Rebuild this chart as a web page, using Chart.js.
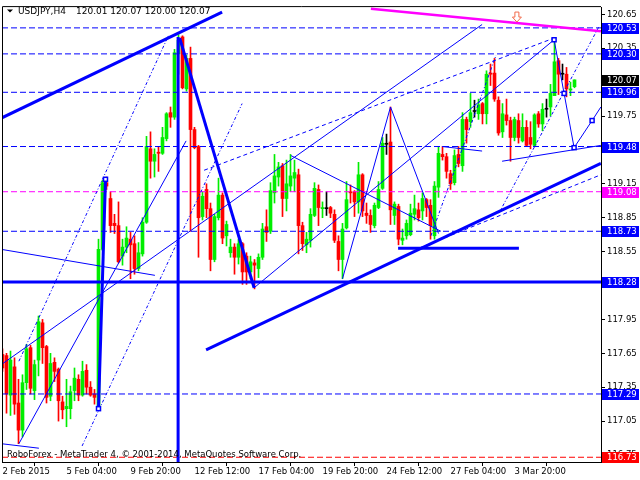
<!DOCTYPE html>
<html><head><meta charset="utf-8">
<script src="https://cdn.jsdelivr.net/npm/chart.js@4.4.1/dist/chart.umd.min.js"></script>
<style>html,body{margin:0;padding:0;background:#fff;}#wrap{width:640px;height:480px;position:relative;}</style>
</head><body><div id="wrap"><canvas id="c" width="640" height="480"></canvas></div>
<script>
// ---------- DATA (USDJPY H4, bar index 0 = 2 Feb 2015 12:00) ----------
const openP = [117.64,117.63,117.28,117.53,117.21,116.97,117.39,117.70,117.32,117.59,117.92,117.71,117.27,117.57,117.51,117.22,117.16,117.16,117.32,117.42,117.28,117.50,117.35,117.29,117.17,118.57,119.16,119.02,118.80,118.78,118.51,118.59,118.66,118.62,118.40,118.53,118.81,119.46,119.35,119.43,119.42,119.55,119.78,119.74,120.30,120.45,119.99,120.26,119.63,119.48,118.86,119.10,118.93,118.48,118.85,119.05,118.69,118.54,118.59,118.50,118.62,118.51,118.37,118.45,118.40,118.50,118.77,118.73,119.07,119.21,119.31,119.02,119.13,119.20,119.23,118.78,118.61,118.65,118.87,119.10,118.93,118.93,118.94,118.88,118.64,118.48,118.76,119.08,119.08,118.99,119.23,118.89,118.87,118.78,118.94,119.11,119.50,119.52,118.87,118.95,118.65,118.69,118.70,118.88,118.92,118.91,119.01,118.96,118.69,119.12,119.41,119.39,119.24,119.16,119.41,119.31,119.72,119.70,119.79,119.77,119.86,119.77,120.13,120.13,119.89,119.61,119.76,119.71,119.56,119.71,119.53,119.65,119.56,119.49,119.77,119.68,119.81,119.83,119.93,120.24,120.12,120.12,119.98,120.01];
const highP = [117.69,117.65,117.67,117.61,117.42,117.46,117.73,117.72,117.59,117.98,117.95,117.72,117.65,117.61,117.52,117.27,117.42,117.36,117.52,117.46,117.58,117.55,117.40,117.33,118.66,119.18,119.21,119.08,118.88,118.99,118.66,118.77,118.72,118.69,118.63,118.85,119.57,119.61,119.46,119.48,119.65,119.78,119.83,120.34,120.47,120.46,120.29,120.36,119.65,119.49,119.08,119.15,118.98,118.88,119.20,119.07,118.82,118.66,118.62,118.66,118.63,118.54,118.51,118.48,118.53,118.80,118.92,119.16,119.41,119.34,119.33,119.36,119.41,119.36,119.28,118.81,118.72,118.93,119.16,119.14,118.99,119.08,118.95,118.92,118.69,118.80,119.17,119.14,119.09,119.34,119.24,118.98,118.92,118.98,119.17,119.56,119.59,119.83,118.99,118.97,118.75,118.83,118.97,119.05,118.98,119.07,119.02,119.01,119.17,119.48,119.48,119.42,119.27,119.45,119.48,119.78,119.74,119.95,119.89,119.90,119.87,120.15,120.21,120.26,119.92,119.86,119.90,119.74,119.74,119.77,119.77,119.71,119.70,119.77,119.79,119.86,119.90,120.03,120.44,120.26,120.21,120.18,120.05,120.07];
const lowP = [117.49,117.12,117.10,117.11,116.85,116.91,117.33,117.29,117.24,117.45,117.56,117.21,117.23,117.40,117.05,117.07,117.00,117.07,117.23,117.23,117.27,117.29,117.27,117.20,117.16,118.56,119.10,118.72,118.71,118.45,118.43,118.54,118.31,118.35,118.38,118.51,118.80,119.20,119.21,119.26,119.41,119.53,119.65,119.72,120.12,119.99,119.97,118.73,119.46,118.50,118.83,118.85,118.38,118.46,118.83,118.62,118.60,118.50,118.35,118.44,118.26,118.26,118.31,118.22,118.32,118.48,118.64,118.71,118.98,119.13,118.86,118.91,119.08,119.08,118.53,118.56,118.54,118.59,118.86,118.78,118.85,118.87,118.85,118.63,118.38,118.31,118.75,118.98,118.86,118.89,118.86,118.80,118.72,118.76,118.93,119.10,119.41,118.79,118.79,118.61,118.61,118.66,118.69,118.83,118.82,118.83,118.86,118.66,118.66,119.03,119.36,119.20,119.10,119.14,119.30,119.26,119.51,119.65,119.74,119.72,119.68,119.68,120.02,119.88,119.58,119.56,119.67,119.35,119.53,119.51,119.52,119.48,119.46,119.48,119.65,119.62,119.74,119.75,119.93,119.94,120.07,119.92,119.93,120.00];
const closeP = [117.52,117.29,117.59,117.20,116.97,117.39,117.69,117.34,117.55,117.93,117.70,117.26,117.56,117.49,117.23,117.15,117.18,117.31,117.43,117.28,117.49,117.35,117.28,117.26,118.57,119.16,119.13,118.78,118.78,118.46,118.59,118.67,118.61,118.40,118.54,118.81,119.48,119.35,119.41,119.42,119.56,119.77,119.74,120.31,120.42,120.00,120.26,119.63,119.47,118.85,119.04,118.93,118.48,118.86,119.05,118.67,118.79,118.59,118.50,118.62,118.37,118.37,118.46,118.43,118.50,118.75,118.72,119.09,119.22,119.30,119.02,119.15,119.22,119.25,118.78,118.62,118.66,118.88,119.11,118.94,118.94,118.93,118.89,118.65,118.48,118.75,119.01,119.07,118.99,119.23,118.91,118.87,118.79,118.96,119.10,119.51,119.50,118.92,118.97,118.66,118.67,118.80,118.89,118.93,118.85,119.02,118.94,118.78,119.13,119.42,119.39,119.26,119.15,119.40,119.33,119.72,119.63,119.78,119.79,119.85,119.77,120.12,120.12,119.90,119.60,119.77,119.71,119.56,119.72,119.56,119.65,119.49,119.50,119.76,119.68,119.81,119.81,119.95,120.23,120.12,120.12,119.99,119.99,120.07];

const timeLabels = ['2 Feb 2015','5 Feb 04:00','9 Feb 20:00','12 Feb 12:00','17 Feb 04:00','19 Feb 20:00','24 Feb 12:00','27 Feb 04:00','3 Mar 20:00'];
const timeLabelBars = [0,16,32,48,64,80,96,112,128];
const priceTicks = [116.75,117.05,117.35,117.65,117.95,118.25,118.55,118.85,119.15,119.45,119.75,120.05,120.35,120.65];

// horizontal levels
const blueDashedLevels = [120.53,120.30,119.96,119.48,118.73,117.29];
const magentaDashedLevels = [119.08];
const redDashedLevels = [116.73];
const blueSolidLevels = [118.28];

// trend-line drawings, endpoints as [bar, price, bar, price]
const thickLines = [
  [-0.4,119.73,54.9,120.67],
  [43.9,120.45,43.9,116.60],
  [24,117.16,25.75,119.19],
  [44.3,120.44,62.9,118.23],
  [50.9,117.68,149.6,119.33],
  [98.9,118.58,129.1,118.58]
];
const magentaLines = [[92.1,120.70,149.6,120.50]];
const thinLines = [
  [-0.3,118.57,38.1,118.34],
  [-0.3,116.85,9.1,116.81],
  [4.1,116.85,45.9,119.53],
  [-0.3,117.55,119.9,120.56],
  [72.1,119.40,109.6,118.73],
  [62.9,118.23,137.9,120.425],
  [85,118.31,97,119.83],
  [97,119.83,109,118.71],
  [124.9,119.35,149.6,119.49],
  [109.9,119.48,119.9,119.44]
];
const thinPath = [[137.9,120.425],[140.4,119.95],[142.9,119.47],[147.4,119.71],[149.6,119.83]];
const dashedLines = [
  [104.1,118.58,149.6,119.23],
  [50.4,119.27,137.9,120.44]
];
const dottedLines = [
  [19.9,116.83,59.9,119.86],
  [4.1,117.58,41.6,120.47],
  [107.1,118.69,123.4,120.29],
  [124.1,118.89,149.1,120.54]
];
const pivotBoxes = [[24,117.16],[25.75,119.19],[137.9,120.425],[140.4,119.95],[142.9,119.47],[147.4,119.71]];
const arrowMark = [128.6,120.67];

const symbolText = 'USDJPY,H4';
const copyrightText = 'RoboForex - MetaTrader 4, \u00a9 2001-2014, MetaQuotes Software Corp.';

// ---------- STYLE ----------
const FONT = '"DejaVu Sans", "Liberation Sans", sans-serif';
const FS = 8.5;
const UP = '#00ee00', DOWN = '#ff0000', DOJI = '#000000', BLUE = '#0000ff', MAG = '#ff00ff';
const X_MIN = -0.125, X_MAX = 149.625, Y_MIN = 116.688, Y_MAX = 120.714;

const n = openP.length;
const idx = openP.map((_, i) => i);
const barColor = idx.map(i => closeP[i] > openP[i] ? UP : (closeP[i] < openP[i] ? DOWN : DOJI));

function lineDs(pts, color, width, dash) {
  return { type: 'line', data: pts.map(p => ({x: p[0], y: p[1]})), borderColor: color, borderWidth: width,
    borderDash: dash || [], pointRadius: 0, fill: false, tension: 0, clip: 0, order: 0 };
}
const seg = l => [[l[0],l[1]],[l[2],l[3]]];
const datasets = [];
datasets.push(lineDs(thinPath, BLUE, 1));
thickLines.forEach(l => datasets.push(lineDs(seg(l), BLUE, 3)));
magentaLines.forEach(l => datasets.push(lineDs(seg(l), MAG, 2.5)));
thinLines.forEach(l => datasets.push(lineDs(seg(l), BLUE, 1)));
dashedLines.forEach(l => datasets.push(lineDs(seg(l), BLUE, 1, [4,3])));
dottedLines.forEach(l => datasets.push(lineDs(seg(l), BLUE, 1, [3,2,1,2])));
blueSolidLevels.forEach(v => datasets.push(lineDs([[X_MIN,v],[X_MAX,v]], BLUE, 3)));
blueDashedLevels.forEach(v => datasets.push(lineDs([[X_MIN,v],[X_MAX,v]], BLUE, 1, [6,3])));
magentaDashedLevels.forEach(v => datasets.push(lineDs([[X_MIN,v],[X_MAX,v]], MAG, 1, [6,3])));
redDashedLevels.forEach(v => datasets.push(lineDs([[X_MIN,v],[X_MAX,v]], DOWN, 1, [6,3])));

datasets.push({ type: 'bar', data: idx.map(i => ({x: i, y: [openP[i], closeP[i]]})), backgroundColor: barColor,
  barThickness: 3, minBarLength: 1, grouped: false, borderWidth: 0, order: 1 });
datasets.push({ type: 'bar', data: idx.map(i => ({x: i, y: [lowP[i], highP[i]]})), backgroundColor: barColor,
  barThickness: 1, grouped: false, borderWidth: 0, order: 2 });

const bidPrice = closeP[n - 1];
const priceBoxes = [
  ...blueDashedLevels.map(v => [v, BLUE]),
  ...blueSolidLevels.map(v => [v, BLUE]),
  ...magentaDashedLevels.map(v => [v, MAG]),
  ...redDashedLevels.map(v => [v, DOWN]),
  [bidPrice, '#000000']
];

const overlay = {
  id: 'overlay',
  afterDatasetsDraw(chart) {
    const ctx = chart.ctx, xs = chart.scales.x, ys = chart.scales.y, a = chart.chartArea;
    ctx.save();
    ctx.beginPath(); ctx.rect(a.left, a.top, a.right - a.left, a.bottom - a.top); ctx.clip();
    ctx.strokeStyle = BLUE; ctx.lineWidth = 1.5;
    pivotBoxes.forEach(p => {
      const x = xs.getPixelForValue(p[0]), y = ys.getPixelForValue(p[1]);
      ctx.fillStyle = '#fff';
      ctx.fillRect(x - 2, y - 2, 4, 4);
      ctx.strokeRect(x - 2, y - 2, 4, 4);
    });
    const ax = xs.getPixelForValue(arrowMark[0]), ay = ys.getPixelForValue(arrowMark[1]);
    ctx.beginPath();
    ctx.moveTo(ax - 2, ay); ctx.lineTo(ax + 2, ay); ctx.lineTo(ax + 2, ay + 5); ctx.lineTo(ax + 4.5, ay + 5);
    ctx.lineTo(ax, ay + 10); ctx.lineTo(ax - 4.5, ay + 5); ctx.lineTo(ax - 2, ay + 5); ctx.closePath();
    ctx.fillStyle = '#fff'; ctx.fill(); ctx.strokeStyle = '#f26a4b'; ctx.lineWidth = 1; ctx.stroke();
    ctx.restore();
  },
  afterDraw(chart) {
    const ctx = chart.ctx, ys = chart.scales.y, a = chart.chartArea;
    ctx.save();
    ctx.strokeStyle = '#000'; ctx.lineWidth = 1;
    ctx.beginPath(); ctx.moveTo(a.left + 0.5, a.bottom); ctx.lineTo(a.left + 0.5, a.top - 0.5); ctx.lineTo(a.right, a.top - 0.5); ctx.stroke();
    ctx.textBaseline = 'middle'; ctx.textAlign = 'left';
    ctx.fillStyle = '#000';
    ctx.beginPath(); ctx.moveTo(7, 9.5); ctx.lineTo(13, 9.5); ctx.lineTo(10, 12.5); ctx.closePath(); ctx.fill();
    ctx.font = '9px ' + FONT;
    ctx.fillText(symbolText, 18, 11.5);
    const last = n - 1;
    ctx.fillText([openP[last], highP[last], lowP[last], closeP[last]].map(v => v.toFixed(2)).join(' '), 76, 11.5);
    ctx.font = FS + 'px ' + FONT;
    ctx.fillText(copyrightText, 7, 455);
    priceBoxes.forEach(b => {
      const y = Math.round(ys.getPixelForValue(b[0]));
      ctx.fillStyle = b[1];
      ctx.fillRect(602, y - 5, 37, 11);
      ctx.fillStyle = '#fff';
      ctx.fillText(b[0].toFixed(2), 607, y + 0.5);
    });
    ctx.restore();
  }
};

new Chart(document.getElementById('c'), {
  type: 'bar',
  data: { datasets },
  options: {
    responsive: false, animation: false, devicePixelRatio: 1, events: [],
    layout: { padding: { left: 2, top: 2, right: 0, bottom: 0 } },
    plugins: { legend: { display: false }, tooltip: { enabled: false } },
    scales: {
      x: {
        type: 'linear', position: 'bottom', min: X_MIN, max: X_MAX, offset: false,
        afterBuildTicks: s => { s.ticks = timeLabelBars.map(v => ({ value: v })); },
        afterFit: s => { s.height = 18; },
        ticks: { autoSkip: false, maxRotation: 0, align: 'start', padding: 1, color: '#000',
          font: { family: FONT, size: FS }, callback: (v, i) => timeLabels[i] },
        grid: { drawOnChartArea: false, drawTicks: true, tickLength: 4, color: '#000' },
        border: { display: true, color: '#000', width: 1 }
      },
      y: {
        type: 'linear', position: 'right', min: Y_MIN, max: Y_MAX,
        afterBuildTicks: s => { s.ticks = priceTicks.map(v => ({ value: v })); },
        afterFit: s => { s.width = 39; },
        ticks: { autoSkip: false, padding: 2, color: '#000', font: { family: FONT, size: FS }, callback: v => v.toFixed(2) },
        grid: { drawOnChartArea: false, drawTicks: true, tickLength: 4, color: '#000' },
        border: { display: true, color: '#000', width: 1 }
      }
    }
  },
  plugins: [overlay]
});
</script></body></html>
